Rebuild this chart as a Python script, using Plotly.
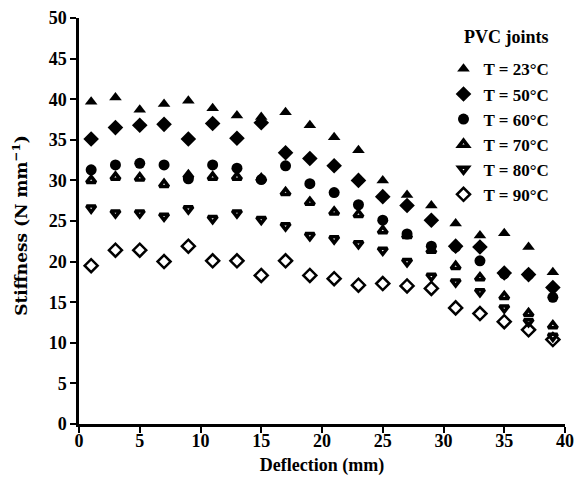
import plotly.graph_objects as go

deflection = [1, 3, 5, 7, 9, 11, 13, 15, 17, 19, 21, 23, 25, 27, 29, 31, 33, 35, 37, 39]
t23 = [39.7, 40.2, 38.7, 39.4, 39.8, 38.9, 38.0, 37.8, 38.4, 36.8, 35.3, 33.7, 30.0, 28.2, 26.9, 24.7, 23.2, 23.5, 21.8, 18.7]
t50 = [35.1, 36.5, 36.8, 36.9, 35.1, 37.0, 35.2, 37.1, 33.4, 32.7, 31.8, 30.0, 28.0, 26.9, 25.1, 21.9, 21.8, 18.6, 18.4, 16.8]
t60 = [31.3, 31.9, 32.1, 31.9, 30.2, 31.9, 31.5, 30.1, 31.8, 29.6, 28.5, 27.0, 25.1, 23.4, 21.9, 21.8, 20.1, 18.5, 18.4, 15.6]
t70 = [30.0, 30.4, 30.3, 29.5, 30.6, 30.4, 30.4, 30.2, 28.5, 27.3, 26.1, 25.8, 23.8, 23.2, 21.4, 19.4, 18.0, 15.7, 13.6, 12.1]
t80 = [26.6, 26.0, 26.0, 25.6, 26.5, 25.3, 26.0, 25.2, 24.4, 23.2, 22.8, 22.2, 21.4, 20.0, 18.2, 17.5, 16.3, 14.3, 12.6, 10.8]
t90 = [19.5, 21.4, 21.4, 20.0, 21.9, 20.1, 20.1, 18.3, 20.1, 18.3, 17.9, 17.1, 17.3, 17.0, 16.7, 14.3, 13.6, 12.6, 11.6, 10.4]

series = [
    ("T = 23°C", t23, dict(symbol="triangle-up", size=11, color="black")),
    ("T = 50°C", t50, dict(symbol="diamond", size=12, color="black")),
    ("T = 60°C", t60, dict(symbol="circle", size=11, color="black")),
    ("T = 70°C", t70, dict(symbol="triangle-up-open", size=8, color="black", line=dict(width=3.5, color="black"))),
    ("T = 80°C", t80, dict(symbol="triangle-down-open", size=8, color="black", line=dict(width=3.5, color="black"))),
    ("T = 90°C", t90, dict(symbol="diamond-open", size=10, color="black", line=dict(width=2.5, color="black"))),
]

SERIF = "Liberation Serif"

fig = go.Figure()
for name, vals, mk in series:
    fig.add_trace(go.Scatter(x=deflection, y=vals, mode="markers", name=name, marker=mk))

axis_common = dict(
    showline=True, linecolor="black", linewidth=2.5, ticks="outside", ticklen=6,
    tickwidth=2, tickcolor="black", showgrid=False, zeroline=False, dtick=5,
    ticklabeloverflow="allow", automargin=False,
    tickfont=dict(family=SERIF, size=18, color="black", weight="bold"),
)

fig.update_layout(
    width=574, height=470,
    margin=dict(l=71, r=17, t=10, b=54),
    plot_bgcolor="white", paper_bgcolor="white",
    font=dict(family=SERIF, size=17, color="black"),
    xaxis=dict(range=[0, 40], ticklabelstandoff=-7,
               title=dict(text="Deflection (mm)", standoff=9,
                          font=dict(family=SERIF, size=18, color="black", weight="bold")),
               **axis_common),
    yaxis=dict(range=[0, 50], **axis_common),
    showlegend=True,
    legend=dict(
        x=0.75, y=0.918, xanchor="left", yanchor="top",
        bgcolor="rgba(0,0,0,0)",
        font=dict(family=SERIF, size=17, color="black", weight="bold"),
        tracegroupgap=0, itemwidth=30,
    ),
    annotations=[
        dict(text="PVC joints", xref="paper", yref="paper", x=0.88, y=0.952,
             xanchor="center", yanchor="middle", showarrow=False,
             font=dict(family=SERIF, size=18, color="black", weight="bold")),
        dict(text="Stiffness (N mm<sup>−1</sup>)", xref="paper", yref="paper", x=-0.122, y=0.49,
             xanchor="center", yanchor="middle", textangle=-90, showarrow=False,
             font=dict(family="DejaVu Serif", size=17, color="black", weight="bold")),
    ],
)

fig.write_html("out.html")
